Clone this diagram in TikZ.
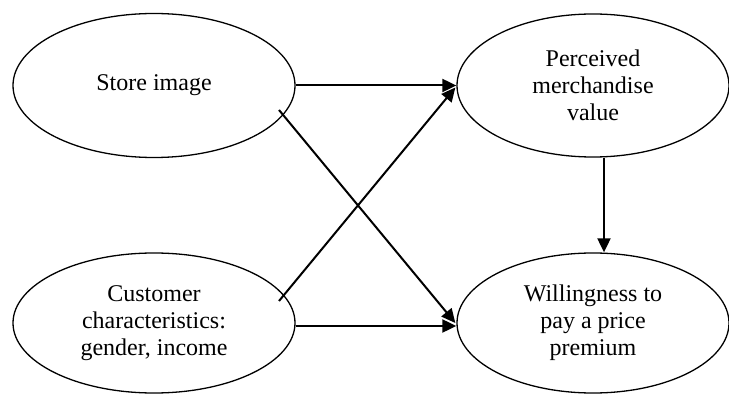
\documentclass[tikz,border=0pt]{standalone}
\usepackage{fontspec}
\setmainfont{Liberation Serif}
\usetikzlibrary{shapes.geometric,arrows.meta}
\begin{document}
\begin{tikzpicture}[x=1pt,y=1pt,
  oval/.style={ellipse,draw,line width=1.3pt,inner sep=0pt,align=center,
    font=\fontsize{24}{27}\selectfont},
  arr/.style={line width=2pt,-{Triangle[length=14pt,width=13pt]}}]
\useasboundingbox (0,0) rectangle (729,394);
\node[oval,minimum width=282pt,minimum height=144pt] (si) at (154,308.5) {Store image};
\node[oval,minimum width=272pt,minimum height=143pt] (pm) at (593,308.5) {Perceived\\merchandise\\value};
\node[oval,minimum width=282pt,minimum height=140pt] (cc) at (154,71) {Customer\\characteristics:\\gender, income};
\node[oval,minimum width=272pt,minimum height=140pt] (wp) at (593,71) {Willingness to\\pay a price\\premium};
\draw[arr] (si.east) -- (pm.west);
\draw[arr] ([yshift=-3pt]cc.east) -- ([yshift=-3pt]wp.west);
\draw[arr] ([xshift=125pt,yshift=-24.5pt]si.center) -- ([xshift=-1pt]wp.west);
\draw[arr] ([xshift=125pt,yshift=22pt]cc.center) -- ([xshift=-1pt,yshift=-2pt]pm.west);
\draw[arr] ([xshift=11pt]pm.south) -- ([xshift=11pt]wp.north);
\end{tikzpicture}
\end{document}
